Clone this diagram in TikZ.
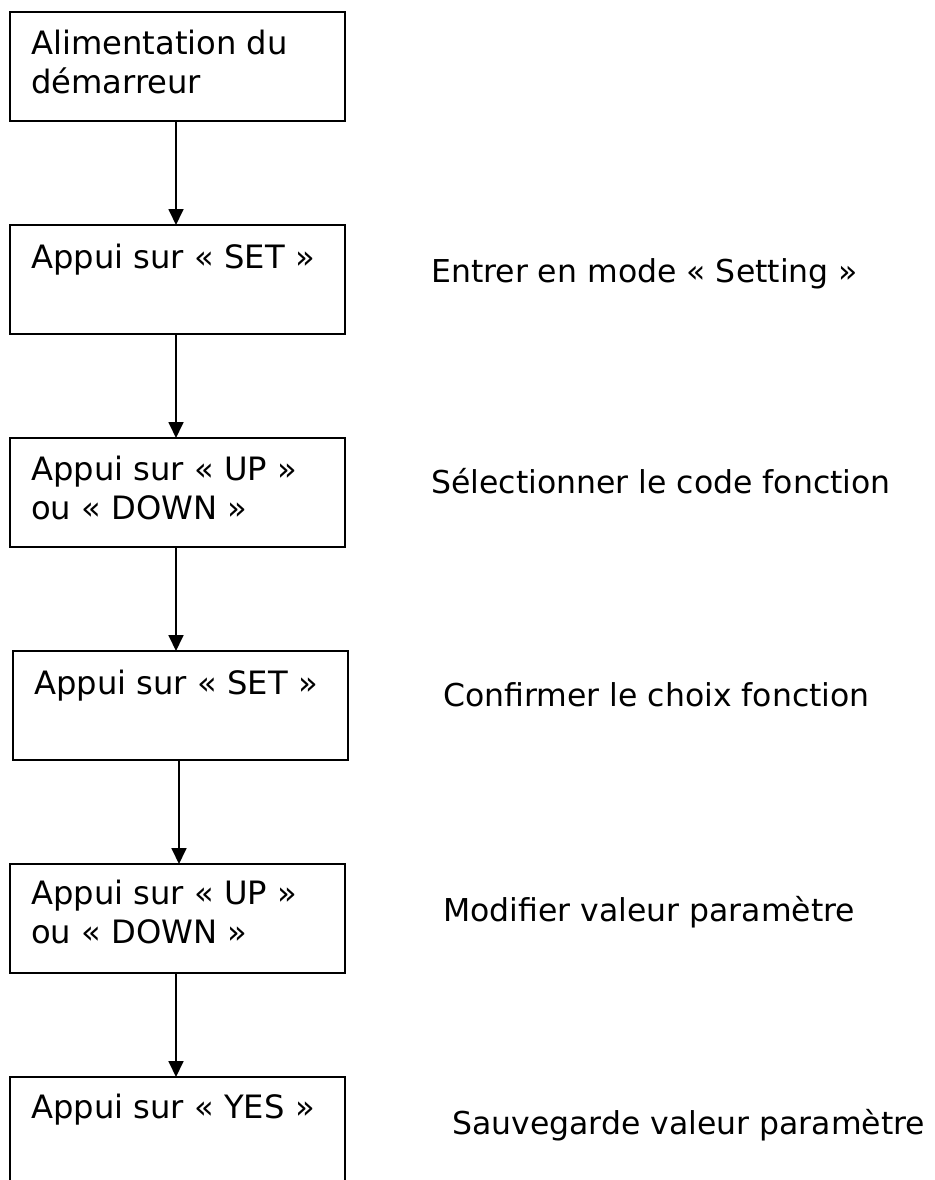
\documentclass[tikz,border=0pt]{standalone}
\usepackage{fontspec}
\setmainfont{DejaVu Sans}
\usetikzlibrary{arrows.meta}
\tikzset{
  stepbox/.style={draw=black, line width=1.8pt, rectangle, minimum width=335pt, minimum height=109pt, inner sep=0pt, outer sep=0pt, anchor=north west},
  lastbox/.style={stepbox, minimum height=160pt},
  boxtext/.style={anchor=base west, inner sep=0pt, align=left, font=\fontsize{32.2pt}{39pt}\selectfont},
  sidetext/.style={anchor=base west, inner sep=0pt, font=\fontsize{31.5pt}{39pt}\selectfont},
  arr/.style={line width=1.8pt, -{Triangle[width=15pt,length=16pt]}}
}
\begin{document}
\begin{tikzpicture}[x=1pt,y=-1pt]
\clip (0,0) rectangle (934,1180);
\fill[white] (0,0) rectangle (934,1180);
% boxes
\node[stepbox] (b1) at (10,12) {};
\node[stepbox] (b2) at (10,225) {};
\node[stepbox] (b3) at (10,438) {};
\node[stepbox] (b4) at (13,651) {};
\node[stepbox] (b5) at (10,864) {};
\node[lastbox] (b6) at (10,1077) {};
% box texts (base anchor of a two-line node is its second line)
\node[boxtext] (t1) at (31,94) {Alimentation du\\démarreur};
\node[boxtext] (t2) at (31,268) {Appui sur « SET »};
\node[boxtext] (t3) at (31,519) {Appui sur « UP »\\ou « DOWN »};
\node[boxtext] (t4) at (34,694) {Appui sur « SET »};
\node[boxtext] (t5) at (31,943) {Appui sur « UP »\\ou « DOWN »};
\node[boxtext] (t6) at (31,1118) {Appui sur « YES »};
% side texts
\node[sidetext] (s2) at (431,282) {Entrer en mode « Setting »};
\node[sidetext] (s3) at (431,493) {Sélectionner le code fonction};
\node[sidetext] (s4) at (443,706) {Confirmer le choix fonction};
\node[sidetext] (s5) at (443,921) {Modifier valeur paramètre};
\node[sidetext] (s6) at (452,1134) {Sauvegarde valeur paramètre};
% arrows
\draw[arr] ([xshift=-1.5pt]b1.south) -- ([xshift=-1.5pt]b1.south |- b2.north);
\draw[arr] ([xshift=-1.5pt]b2.south) -- ([xshift=-1.5pt]b2.south |- b3.north);
\draw[arr] ([xshift=-1.5pt]b3.south) -- ([xshift=-1.5pt]b3.south |- b4.north);
\draw[arr] ([xshift=-1.5pt]b4.south) -- ([xshift=-1.5pt]b4.south |- b5.north);
\draw[arr] ([xshift=-1.5pt]b5.south) -- ([xshift=-1.5pt]b5.south |- b6.north);
\end{tikzpicture}
\end{document}
